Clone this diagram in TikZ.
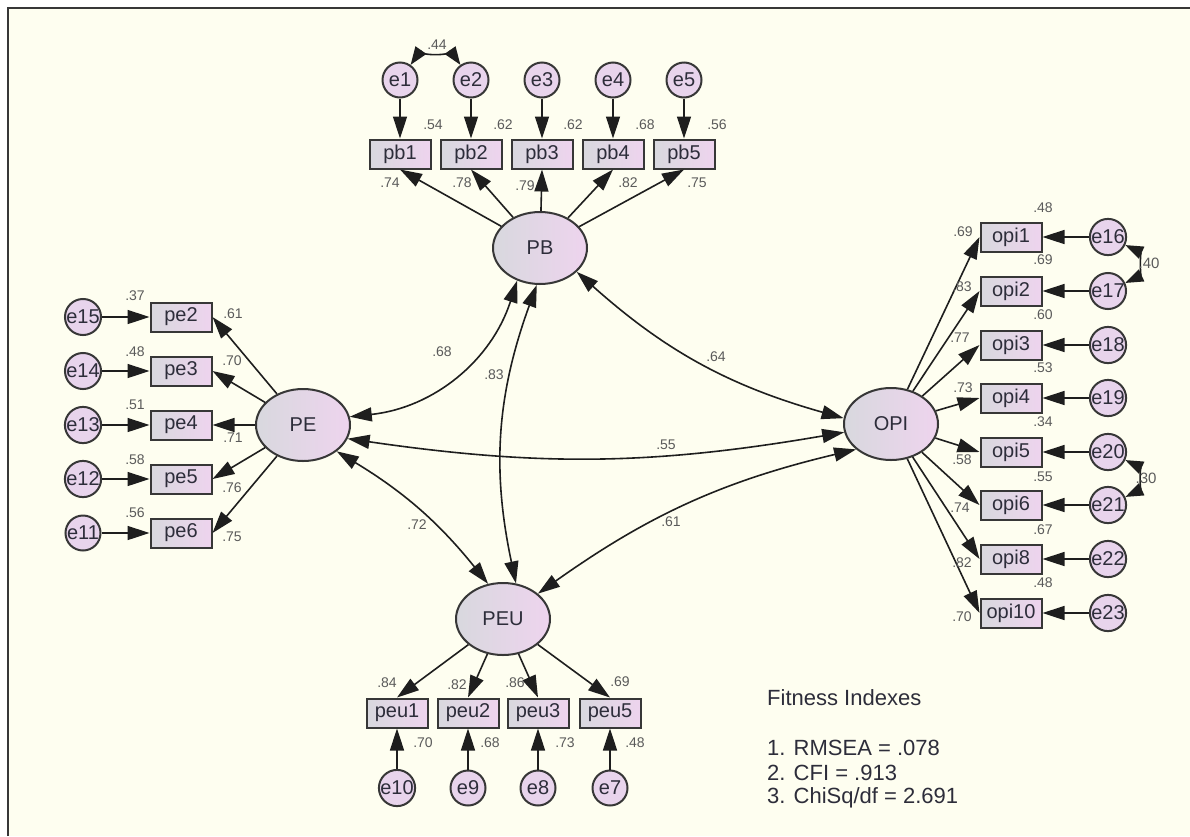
\documentclass[tikz,border=0pt]{standalone}
\usepackage{fontspec}
\setmainfont{Liberation Sans}
\usetikzlibrary{arrows.meta,shapes.geometric}
\definecolor{cream}{RGB}{254,254,240}
\definecolor{linec}{RGB}{30,30,30}
\definecolor{bordc}{RGB}{55,55,55}
\definecolor{boxl}{RGB}{216,216,222}
\definecolor{boxr}{RGB}{238,212,238}
\definecolor{errf}{RGB}{232,212,236}
\definecolor{txtc}{RGB}{45,45,58}
\definecolor{numc}{RGB}{90,90,90}
\begin{document}
\begin{tikzpicture}[x=1pt,y=1pt,
 obs/.style={rectangle, draw=bordc, line width=2pt, minimum width=61pt, minimum height=29pt, inner sep=0pt, left color=boxl, right color=boxr, text=txtc, font=\fontsize{20}{20}\selectfont},
 err/.style={circle, draw=bordc, line width=2pt, minimum size=35pt, inner sep=0pt, fill=errf, text=txtc, font=\fontsize{20}{20}\selectfont},
 lat/.style={ellipse, draw=bordc, line width=2pt, minimum width=94pt, minimum height=72pt, inner sep=0pt, left color=boxl, right color=boxr, text=txtc, font=\fontsize{20}{20}\selectfont},
 num/.style={text=numc, inner sep=0pt, font=\fontsize{14}{14}\selectfont},
 arr/.style={draw=linec, line width=1.6pt, -{Triangle[length=22pt,width=14pt]}},
 dbl/.style={draw=linec, line width=1.6pt, {Triangle[length=22pt,width=14pt]}-{Triangle[length=22pt,width=14pt]}},
 dbs/.style={draw=linec, line width=1.6pt, {Triangle[length=18pt,width=13pt]}-{Triangle[length=18pt,width=13pt]}},
 fittxt/.style={text=txtc, inner sep=0pt, anchor=west, font=\fontsize{22}{22}\selectfont}
]
\useasboundingbox (0,0) rectangle (1190,-836);
\fill[white] (0,0) rectangle (1190,-836);
\fill[cream] (8,-8) rectangle (1190,-836);
\draw[bordc, line width=2pt] (8,-836) -- (8,-8) -- (1190,-8);

% latent variables
\node[lat] (PB) at (540,-248) {PB};
\node[lat] (PE) at (303,-425) {PE};
\node[lat] (OPI) at (891,-424) {OPI};
\node[lat] (PEU) at (503,-619) {PEU};

% PB block
\foreach \n/\x in {1/400,2/471,3/542,4/613,5/684}{
  \node[obs] (pb\n) at (\x,-154) {pb\n};
  \node[err] (e\n) at (\x,-80) {e\n};
  \draw[arr] (e\n) -- (pb\n);
  \draw[arr] (PB) -- (pb\n.south);
}
\draw[dbs] (e1) to[out=55,in=125,looseness=0.55] (e2);
\node[num] at (437,-45) {.44};
\node[num] at (433,-125) {.54};
\node[num] at (503,-125) {.62};
\node[num] at (573,-125) {.62};
\node[num] at (645,-125) {.68};
\node[num] at (717,-125) {.56};
\node[num] at (390,-183) {.74};
\node[num] at (462,-183) {.78};
\node[num] at (525,-186) {.79};
\node[num] at (628,-183) {.82};
\node[num] at (697,-183) {.75};

% PE block
\foreach \n/\e/\y in {2/15/317,3/14/371,4/13/425,5/12/479,6/11/533}{
  \node[obs] (pe\n) at (181,-\y) {pe\n};
  \node[err] (e\e) at (83,-\y) {e\e};
  \draw[arr] (e\e) -- (pe\n);
  \draw[arr] (PE) -- (pe\n.east);
}
\node[num] at (135,-296) {.37};
\node[num] at (135,-352) {.48};
\node[num] at (135,-405) {.51};
\node[num] at (135,-460) {.58};
\node[num] at (135,-513) {.56};
\node[num] at (233,-314) {.61};
\node[num] at (232,-361) {.70};
\node[num] at (233,-438) {.71};
\node[num] at (232,-488) {.76};
\node[num] at (232,-537) {.75};

% OPI block
\foreach \n/\e/\y in {1/16/237,2/17/291,3/18/345,4/19/398,5/20/452,6/21/505,8/22/559,10/23/613}{
  \node[obs] (opi\n) at (1011,-\y) {opi\n};
  \node[err] (e\e) at (1108,-\y) {e\e};
  \draw[arr] (e\e) -- (opi\n);
  \draw[arr] (OPI) -- (opi\n.west);
}
\draw[dbs] (e16) to[out=-25,in=25,looseness=1.1] (e17);
\draw[dbs] (e20) to[out=-25,in=25,looseness=1.1] (e21);
\node[num, font=\fontsize{15}{15}\selectfont] at (1149,-263) {.40};
\node[num, font=\fontsize{15}{15}\selectfont] at (1146,-478) {.30};
\node[num] at (1043,-208) {.48};
\node[num] at (963,-232) {.69};
\node[num] at (1043,-260) {.69};
\node[num] at (962,-287) {.83};
\node[num] at (1043,-315) {.60};
\node[num] at (960,-338) {.77};
\node[num] at (1043,-368) {.53};
\node[num] at (963,-388) {.73};
\node[num] at (1043,-422) {.34};
\node[num] at (962,-460) {.58};
\node[num] at (1043,-477) {.55};
\node[num] at (960,-508) {.74};
\node[num] at (1043,-530) {.67};
\node[num] at (962,-563) {.82};
\node[num] at (1043,-583) {.48};
\node[num] at (962,-617) {.70};

% PEU block
\foreach \n/\e/\x in {1/10/397,2/9/468,3/8/538,5/7/610}{
  \node[obs] (peu\n) at (\x,-713) {peu\n};
  \node[err] (e\e) at (\x,-788) {e\e};
  \draw[arr] (e\e) -- (peu\n);
  \draw[arr] (PEU) -- (peu\n.north);
}
\node[num] at (387,-683) {.84};
\node[num] at (457,-685) {.82};
\node[num] at (515,-683) {.86};
\node[num] at (620,-682) {.69};
\node[num] at (423,-743) {.70};
\node[num] at (490,-743) {.68};
\node[num] at (565,-743) {.73};
\node[num] at (635,-743) {.48};

% structural covariances
\draw[dbl] (PE.10) to[bend right=33] (PB.235);
\draw[dbl] (PB.265) to[bend right=16] (PEU.70);
\draw[dbl] (PB.-33) to[bend right=13] (OPI.173);
\draw[dbl] (PE.-17) to[bend right=9] (OPI.190);
\draw[dbl] (PE.-38) to[bend left=10] (PEU.113);
\draw[dbl] (OPI.216) to[bend right=11] (PEU.36);
\node[num] at (442,-352) {.68};
\node[num] at (494,-375) {.83};
\node[num] at (716,-357) {.64};
\node[num] at (666,-445) {.55};
\node[num] at (417,-525) {.72};
\node[num] at (671,-522) {.61};

% fitness indexes
\node[fittxt] (fi0) at (767,-698) {Fitness Indexes};
\node[fittxt] (fi1) at (767,-748) {1. RMSEA = .078};
\node[fittxt] (fi2) at (767,-773) {2. CFI = .913};
\node[fittxt] (fi3) at (767,-798) {3. ChiSq/df = 2.691};
\end{tikzpicture}
\end{document}
